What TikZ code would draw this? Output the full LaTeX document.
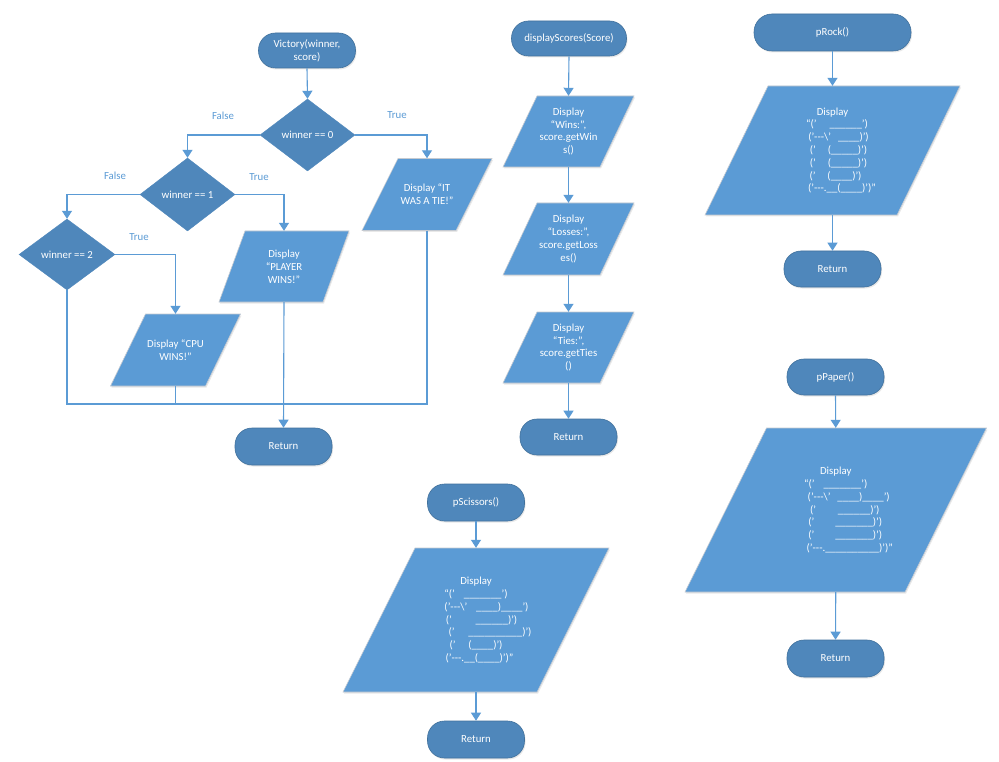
\documentclass[tikz,border=0pt]{standalone}
\usepackage{fontspec}
\setmainfont{Carlito}
\usetikzlibrary{shapes.geometric,arrows.meta,shadows}
\definecolor{termfill}{HTML}{4F87BB}
\definecolor{termline}{HTML}{41719C}
\definecolor{parafill}{HTML}{5B9BD5}
\definecolor{paraline}{HTML}{C5CAD1}
\definecolor{conncol}{HTML}{5B9BD5}
\definecolor{labcol}{HTML}{5B9BD5}
\ExplSyntaxOn
\cs_new:Npn \usc #1 {\prg_replicate:nn{#1}{\_}}
\ExplSyntaxOff
\newcommand\bsl{\textbackslash}
\newcommand\lpad[1]{\hspace*{#1pt}}
% name, cx, cy, halfwidth, halfheight, halfskew, text
\newcommand\parabox[7]{%
  \filldraw[pshape] ({#2-#4+#6},{#3-#5}) -- ({#2+#4+#6},{#3-#5}) -- ({#2+#4-#6},{#3+#5}) -- ({#2-#4-#6},{#3+#5}) -- cycle;
  \node[ptext, minimum height={2*#5}] (#1) at (#2,#3) {#7};
}
\tikzset{
  term/.style={rectangle, rounded corners=17pt, fill=termfill, draw=termline, line width=0.6pt,
    text=white, align=center, inner sep=0pt, minimum width=97pt, minimum height=36pt,
    drop shadow={opacity=0.18, shadow xshift=1pt, shadow yshift=-1.5pt}},
  dec/.style={diamond, fill=termfill, draw=termfill, text=white, inner sep=0pt, align=center},
  ptext/.style={text=white, align=center, inner sep=0pt, minimum width=10pt},
  pshape/.style={fill=parafill, draw=paraline, line width=0.6pt,
    drop shadow={opacity=0.18, shadow xshift=1pt, shadow yshift=-1.5pt}},
  conn/.style={draw=conncol, line width=1.1pt},
  arr/.style={conn, -{Triangle[width=10pt,length=8pt]}},
  lab/.style={text=labcol, inner sep=0pt},
  dsfont/.style={font=\fontsize{10.8}{14.6}\selectfont},
  artfont/.style={font=\fontsize{10.8}{12.7}\selectfont}
}
\begin{document}
\begin{tikzpicture}[x=1pt, y=-1pt, font=\fontsize{10.8}{12.8}\selectfont]
\fill[white] (0,0) rectangle (999,762);
\useasboundingbox (0,0) rectangle (999,762);

% ---------- Victory ----------
\node[term, minimum height=35pt] (vt) at (307,50.5) {Victory(winner,\\score)};
\node[dec, minimum width=95pt, minimum height=72pt] (d0) at (307.5,135) {winner == 0};
\node[dec, minimum width=95pt, minimum height=73pt] (d1) at (187.5,194.5) {winner == 1};
\node[dec, minimum width=96pt, minimum height=71pt] (d2) at (67,254.5) {winner == 2};
\parabox{tie}{427}{194.5}{47}{36}{18}{Display “IT\\WAS A TIE!”}
\parabox{player}{284}{266.5}{52}{35.5}{13}{Display\\“PLAYER\\WINS!”}
\parabox{cpu}{175.5}{350}{47.5}{36}{17.5}{Display “CPU\\WINS!”}
\node[term, minimum height=37pt] (rv) at (283.5,446.5) {Return};

\node[lab] (lf0) at (223,116) {False};
\node[lab] (lt0) at (397,115) {True};
\node[lab] (lf1) at (115,176) {False};
\node[lab] (lt1) at (259,177) {True};
\node[lab] (lt2) at (139,237) {True};

\draw[arr] (vt.south) -- (d0.north);
\draw[arr] (d0.west) -| (d1.north);
\draw[arr] (d0.east) -| (tie.north);
\draw[arr] (d1.west) -| (d2.north);
\draw[arr] (d1.east) -| (player.north);
\draw[arr] (d2.east) -| (cpu.north);
\coordinate (jn) at (284,404);
\draw[conn] (d2.south) |- (jn);
\draw[conn] (tie.south) |- (jn);
\draw[conn] (cpu.south) -- (cpu.south |- jn);
\draw[arr] (player.south) -- (rv.north);

% ---------- displayScores ----------
\node[term, minimum width=115pt, minimum height=35pt] (dst) at (569,38.5) {displayScores(Score)};
\parabox{dp1}{568.5}{131.5}{48.5}{35.5}{17}{\fontsize{10.8}{14.6}\selectfont Display\\“Wins:”,\\score.getWin\\s()}
\parabox{dp2}{568.5}{239}{48.5}{36}{17}{\fontsize{10.8}{14.6}\selectfont Display\\“Losses:”,\\score.getLoss\\es()}
\parabox{dp3}{568.5}{347.5}{48.5}{35.5}{17}{\fontsize{10.8}{14.6}\selectfont Display\\“Ties:”,\\score.getTies\\()}
\node[term] (dsr) at (568.5,437) {Return};
\draw[arr] (dst.south) -- (dp1.north);
\draw[arr] (dp1.south) -- (dp2.north);
\draw[arr] (dp2.south) -- (dp3.north);
\draw[arr] (dp3.south) -- (dsr.north);

% ---------- pRock ----------
\node[term, minimum width=157pt, minimum height=37pt, rounded corners=18pt] (rt) at (832.5,32.5) {pRock()};
\parabox{rock}{832.5}{150.5}{96}{64.5}{31.5}{\fontsize{10.8}{12.7}\selectfont Display\\
\lpad{9}“('\hspace{13pt}\usc{6}')\\
\lpad{12}('-{}-{}-\bsl'\hspace{7pt}\usc{4})')\\
\lpad{12}('\hspace{12pt}(\usc{5})')\\
\lpad{12}('\hspace{12pt}(\usc{5})')\\
\lpad{6}('\hspace{12pt}(\usc{4})')\\
\lpad{19}('-{}-{}-.\usc{2}(\usc{4})')”}
\node[term] (rr) at (832.5,269) {Return};
\draw[arr] (rt.south) -- (rock.north);
\draw[arr] (rock.south) -- (rr.north);

% ---------- pPaper ----------
\node[term] (pt) at (835.5,377) {pPaper()};
\parabox{paper}{835.75}{510}{110}{82}{40.75}{\fontsize{10.8}{12.7}\selectfont Display\\
“('\hspace{9pt}\usc{7}')\\
\lpad{26}('-{}-{}-\bsl'\hspace{7pt}\usc{4})\usc{4}')\\
\lpad{18}('\hspace{22pt}\usc{6})')\\
\lpad{19}('\hspace{21pt}\usc{7})')\\
\lpad{19}('\hspace{21pt}\usc{7})')\\
\lpad{28}('-{}-{}-.\usc{10})')”}
\node[term, minimum height=37pt] (pr) at (835.5,658.5) {Return};
\draw[arr] (pt.south) -- (paper.north);
\draw[arr] (paper.south) -- (pr.north);

% ---------- pScissors ----------
\node[term, minimum height=37pt] (st) at (476,502.5) {pScissors()};
\parabox{sc}{476}{620}{97}{72}{36}{\fontsize{10.8}{12.7}\selectfont Display\\
“('\hspace{9pt}\usc{7}')\\
\lpad{21}('-{}-{}-\bsl'\hspace{9pt}\usc{4})\usc{4}')\\
\lpad{11}('\hspace{24pt}\usc{6})')\\
\lpad{28}('\hspace{14pt}\usc{10})')\\
('\hspace{13pt}(\usc{4})')\\
\lpad{7}('-{}-{}-.\usc{2}(\usc{4})')”}
\node[term, minimum height=37pt] (sr) at (476,739.5) {Return};
\draw[arr] (st.south) -- (sc.north);
\draw[arr] (sc.south) -- (sr.north);
\end{tikzpicture}
\end{document}
